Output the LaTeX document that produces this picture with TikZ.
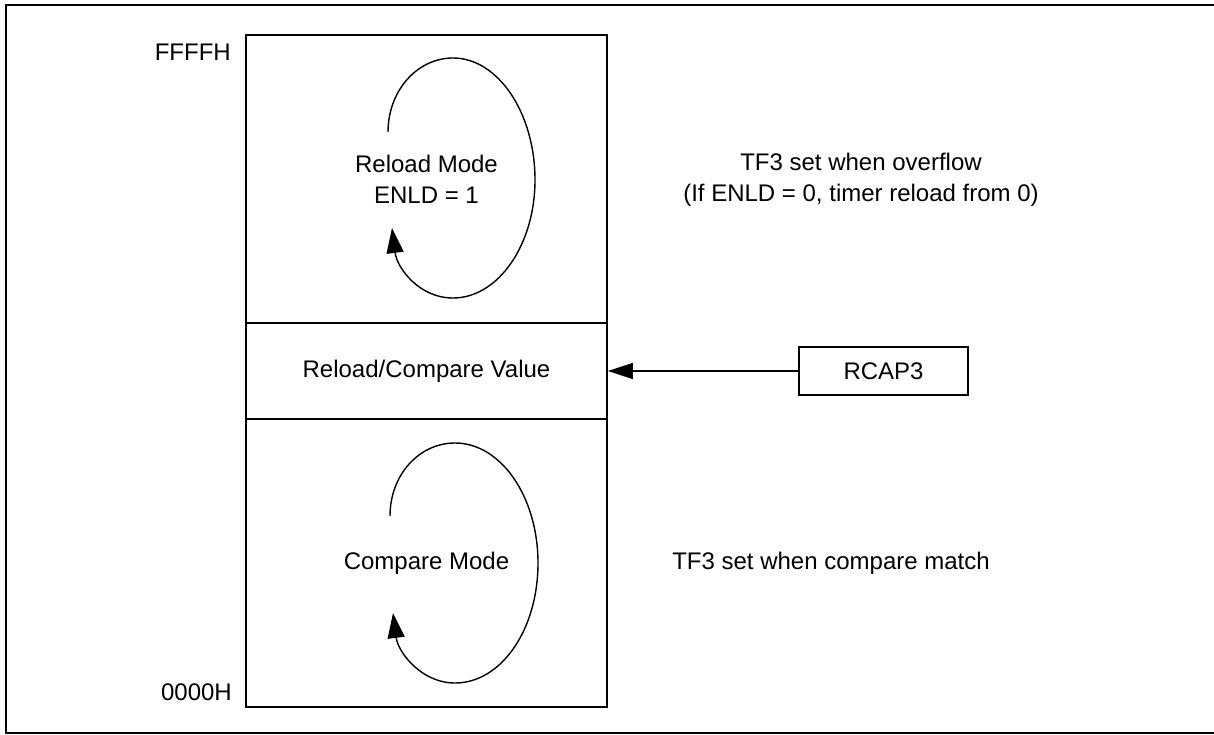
\documentclass[tikz,border=0pt]{standalone}
\usepackage{fontspec}
\setmainfont{Liberation Sans}
\usetikzlibrary{arrows.meta}
\begin{document}
\begin{tikzpicture}[x=1pt,y=-1pt,
  every node/.style={font=\fontsize{24}{31}\selectfont, inner sep=0pt},
  region/.style={draw, line width=1.8pt, minimum width=361pt, align=center},
  srcbox/.style={draw, line width=1.6pt, minimum width=169pt, minimum height=48pt},
  loop/.style={line width=1.4pt, -{Triangle[length=25pt,width=17pt]}},
  feed/.style={line width=1.4pt, -{Triangle[length=25pt,width=16pt]}},
  frame/.style={line width=2pt}]
\useasboundingbox (0,0) rectangle (1214,735);
% outer frame (right side outside the picture)
\draw[frame] (1230,5) -- (6,5) -- (6,733) -- (1230,733);
% memory map regions
\node[region, minimum height=288pt] (reload) at (426.5,179) {Reload Mode\\ENLD = 1};
\node[region, minimum height=96pt] (value) at (426.5,371) {Reload/Compare Value};
\node[region, minimum height=288pt] (compare) at (426.5,563) {Compare Mode};
% address labels
\node[anchor=east] (ffff) at (231,52) {FFFFH};
\node[anchor=east] (zero) at (232,692) {0000H};
% RCAP3 source
\node[srcbox] (rcap) at (883.5,371) {RCAP3};
\draw[feed] (rcap.west) -- (value.east);
% loops
\draw[loop] (388,132) .. controls (388,91) and (417,58) .. (453,58)
  .. controls (498,58) and (535,113) .. (535,180)
  .. controls (535,245) and (498,298) .. (453,298)
  .. controls (419,298) and (397,268) .. (392,228);
\draw[loop] (390,516) .. controls (390,475) and (419,443) .. (455,443)
  .. controls (501,443) and (538,497) .. (538,563)
  .. controls (538,630) and (501,683) .. (455,683)
  .. controls (421,683) and (398,652) .. (393,613);
% notes
\node[align=center] (note1) at (861,180) {TF3 set when overflow\\(If ENLD = 0, timer reload from 0)};
\node (note2) at (831,563) {TF3 set when compare match};
\end{tikzpicture}
\end{document}
